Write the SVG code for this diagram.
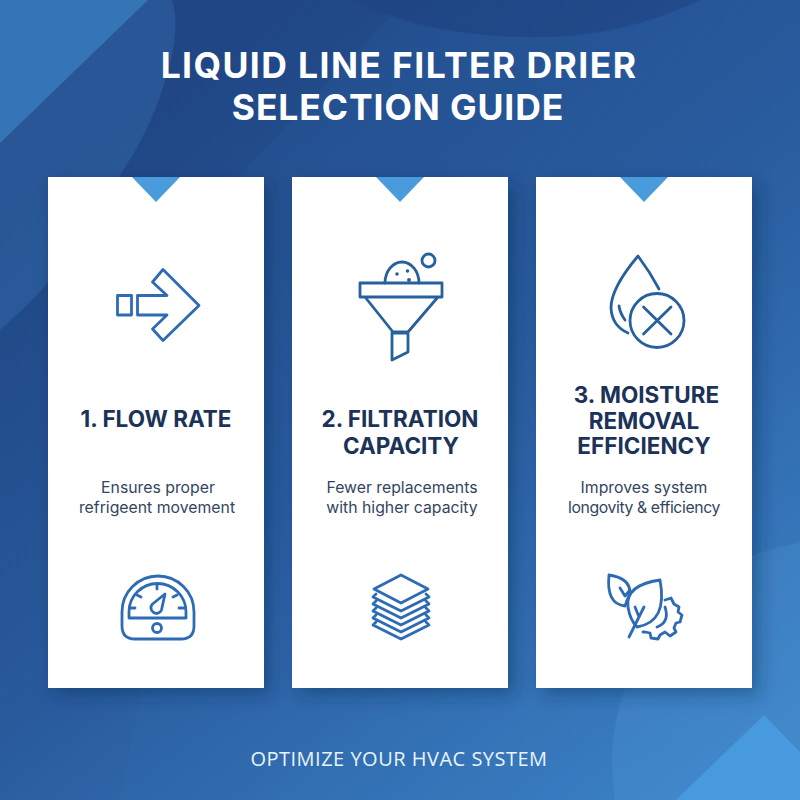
<svg xmlns="http://www.w3.org/2000/svg" width="800" height="800" viewBox="0 0 800 800">
<style>
.card{fill:#fff;filter:url(#sh)}
.tab{fill:#4a9bdc}
.ic{fill:none;stroke:#2d6bb4;stroke-width:2.8;stroke-linejoin:round;stroke-linecap:round}
.icd{fill:none;stroke:#27609f;stroke-width:2.8;stroke-linejoin:round;stroke-linecap:round}
.ttl{font-family:Inter,"Liberation Sans",sans-serif;font-weight:700;font-size:35.500px;fill:#fff;text-anchor:middle}
.hd{font-family:Inter,"Liberation Sans",sans-serif;font-weight:700;font-size:22.500px;fill:#1b3358;text-anchor:middle}
.bd{font-family:Inter,"Liberation Sans",sans-serif;font-size:15.800px;fill:#34455f;text-anchor:middle}
.ft{font-family:"Open Sans","Liberation Sans",sans-serif;font-size:20px;fill:#eaf3fb;text-anchor:middle;letter-spacing:.5px}
</style>
<defs>
<linearGradient id="bg" gradientUnits="userSpaceOnUse" x1="200" y1="60" x2="760" y2="800">
<stop offset="0" stop-color="#204684"/><stop offset=".45" stop-color="#285a9c"/><stop offset="1" stop-color="#3f88cc"/>
</linearGradient>
<filter id="sh" x="-20%" y="-10%" width="140%" height="120%"><feDropShadow dx="7" dy="7" stdDeviation="9" flood-color="#0c2450" flood-opacity=".38"/></filter>
</defs>
<g id="background">
<rect width="800" height="800" fill="url(#bg)"/>
<path d="M0 0H172Q182 30 163 87Q150 130 120 175Q80 260 0 330Z" fill="#3a7ec0" opacity=".3"/>
<path d="M0 0H148L0 143Z" fill="#3f8aca" opacity=".6"/>
<path d="M390 17L240 175L120 800H800V0H700Q620 40 530 37Q450 36 390 17Z" fill="#3072b8" opacity=".14"/>
<path d="M352 0Q430 36 530 37Q620 38 700 0Z" fill="#1a3d7b" opacity=".3"/>
<circle cx="835" cy="763" r="223" fill="#5aa6e2" opacity=".2"/>
<path d="M764 715L676 800H800V752Z" fill="#4a9fe4" opacity=".8"/>
</g>
<g id="title">
<text class="ttl" x="399" y="78" letter-spacing="1.400">LIQUID LINE FILTER DRIER</text>
<text class="ttl" x="398" y="120" letter-spacing=".9">SELECTION GUIDE</text>
</g>
<g id="card-1">
<rect class="card" x="48" y="177" width="216" height="511"/>
<path class="tab" d="M132 177H180L156 202Z"/>
<path class="ic" d="M117.500 295.500H131.500V315H117.500ZM137.500 295.500H167L152.500 282L163 269.500L199 305.500L163 340.500L152.500 329L167 315H137.500Z"/>
<text class="hd" x="156" y="427">1. FLOW RATE</text>
<text class="bd" x="158" y="492.500">Ensures proper</text>
<text class="bd" x="157" y="513">refrigeent movement</text>
<g>
<path class="ic" d="M122 626V612A36 36 0 0 1 194 612V626Q194 639 181 639H135Q122 639 122 626Z"/>
<path class="ic" d="M129 618V612A28.500 28.500 0 0 1 186 612V618Z"/>
<path class="ic" d="M157 585V589M137 595L141 597M177 595L173 597M130 608H135M184 608H179"/>
<circle class="ic" cx="157" cy="628" r="4.500"/>
<path class="ic" d="M165 594L161.500 610A5.500 5.500 0 1 1 152.500 604Z"/>
</g>
</g>
<g id="card-2">
<rect class="card" x="292" y="177" width="216" height="511"/>
<path class="tab" d="M376 177H424L400 202Z"/>
<path class="icd" d="M360 283H442V297H360ZM365 297L393 332H408L438 297M392 333H408V352L392 360Z"/>
<path class="icd" d="M385 283A17 21 0 0 1 419 283"/>
<circle class="icd" cx="428.500" cy="260.500" r="6.500"/>
<circle cx="397" cy="274" r="1.800" fill="#27609f"/><circle cx="407.500" cy="271" r="1.800" fill="#27609f"/><circle cx="409" cy="280" r="2" fill="#27609f"/>
<text class="hd" x="400" y="427">2. FILTRATION</text>
<text class="hd" x="401" y="454">CAPACITY</text>
<text class="bd" x="402" y="492.500">Fewer replacements</text>
<text class="bd" x="402" y="513">with higher capacity</text>
<g class="ic">
<path d="M401 575L428 589L401 603L374 589Z"/>
<path d="M376 594L373 597L401 611L429 597L426 594M376 601L373 604L401 618L429 604L426 601M376 608L373 611L401 625L429 611L426 608M376 615L373 618L401 632L429 618L426 615M376 622L373 625L401 639L429 625L426 622"/>
</g>
</g>
<g id="card-3">
<rect class="card" x="536" y="177" width="216" height="511"/>
<path class="tab" d="M620 177H668L644 202Z"/>
<g class="icd">
<path d="M659 289Q650 272 638 256Q611 288 611 308Q612 326 628 333"/>
<path d="M619 306Q620 313 625 320"/>
<circle cx="657" cy="320.500" r="27"/>
<path d="M643.500 307L671 334M671 307L643.500 334"/>
</g>
<text class="hd" x="646.500" y="403">3. MOISTURE</text>
<text class="hd" x="644" y="429">REMOVAL</text>
<text class="hd" x="644" y="454">EFFICIENCY</text>
<text class="bd" x="644" y="492.500">Improves system</text>
<text class="bd" x="644" y="513" letter-spacing="-.4">longovity &amp; efficiency</text>
<g class="ic">
<path d="M609 575Q630 578 630 593Q627 600 625 606Q606 604 609 575Z"/>
<path d="M620 588L625 596L630 590"/>
<path d="M660 580Q625 585 628 607Q630 620 637 627Q668 622 660 580Z"/>
<path d="M629 637L644 607M639 617L635 607"/>
<path d="M665 600L671 598L674 604L679 607L678 612L682 615L680 622L676 623L674 628L676 632L670 636L665 632L660 635L658 639L651 638L650 633L645 632L643 632"/>
<path d="M665 607Q670 622 657 627"/>
</g>
</g>
<g id="footer"><text class="ft" x="399" y="766">OPTIMIZE YOUR HVAC SYSTEM</text></g>
<g id="connectors"/>
</svg>
